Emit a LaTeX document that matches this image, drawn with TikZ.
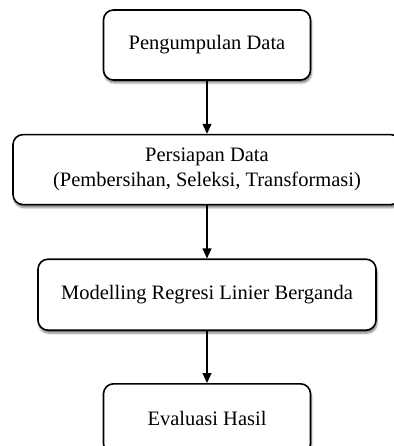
\documentclass[tikz,border=0pt]{standalone}
\usepackage{fontspec}
\setmainfont{Liberation Serif}
\usetikzlibrary{positioning,arrows.meta,shadows.blur}
\tikzset{ARROW/.style={line width=1.2pt, -{Triangle[width=9pt,length=10pt]}}}
\tikzset{PROCESS/.style={rectangle, rounded corners=10pt, draw, line width=1.6pt, fill=white, minimum height=70pt, align=center, font=\fontsize{20.5}{25}\selectfont, blur shadow={shadow xshift=1pt, shadow yshift=-3pt, shadow opacity=50, shadow blur steps=6}}}

\begin{document}
\begin{tikzpicture}
    \useasboundingbox (0,0) rectangle (393pt,-446pt);

    \node[PROCESS, minimum width=207pt] (n_collect) at (207pt,-45pt) {Pengumpulan Data};
    \node[PROCESS, minimum width=388pt, below=53pt of n_collect] (n_prepare) {
        Persiapan Data \\
        (Pembersihan, Seleksi, Transformasi)
    };
    \node[PROCESS, minimum width=338pt, minimum height=71pt, below=53pt of n_prepare] (n_model) {Modelling Regresi Linier Berganda};
    \node[PROCESS, minimum width=207pt, below=52pt of n_model] (n_eval) {Evaluasi Hasil};

    \draw[ARROW] (n_collect) -- (n_prepare);
    \draw[ARROW] (n_prepare) -- (n_model);
    \draw[ARROW] (n_model) -- (n_eval);

\end{tikzpicture}
\end{document}
